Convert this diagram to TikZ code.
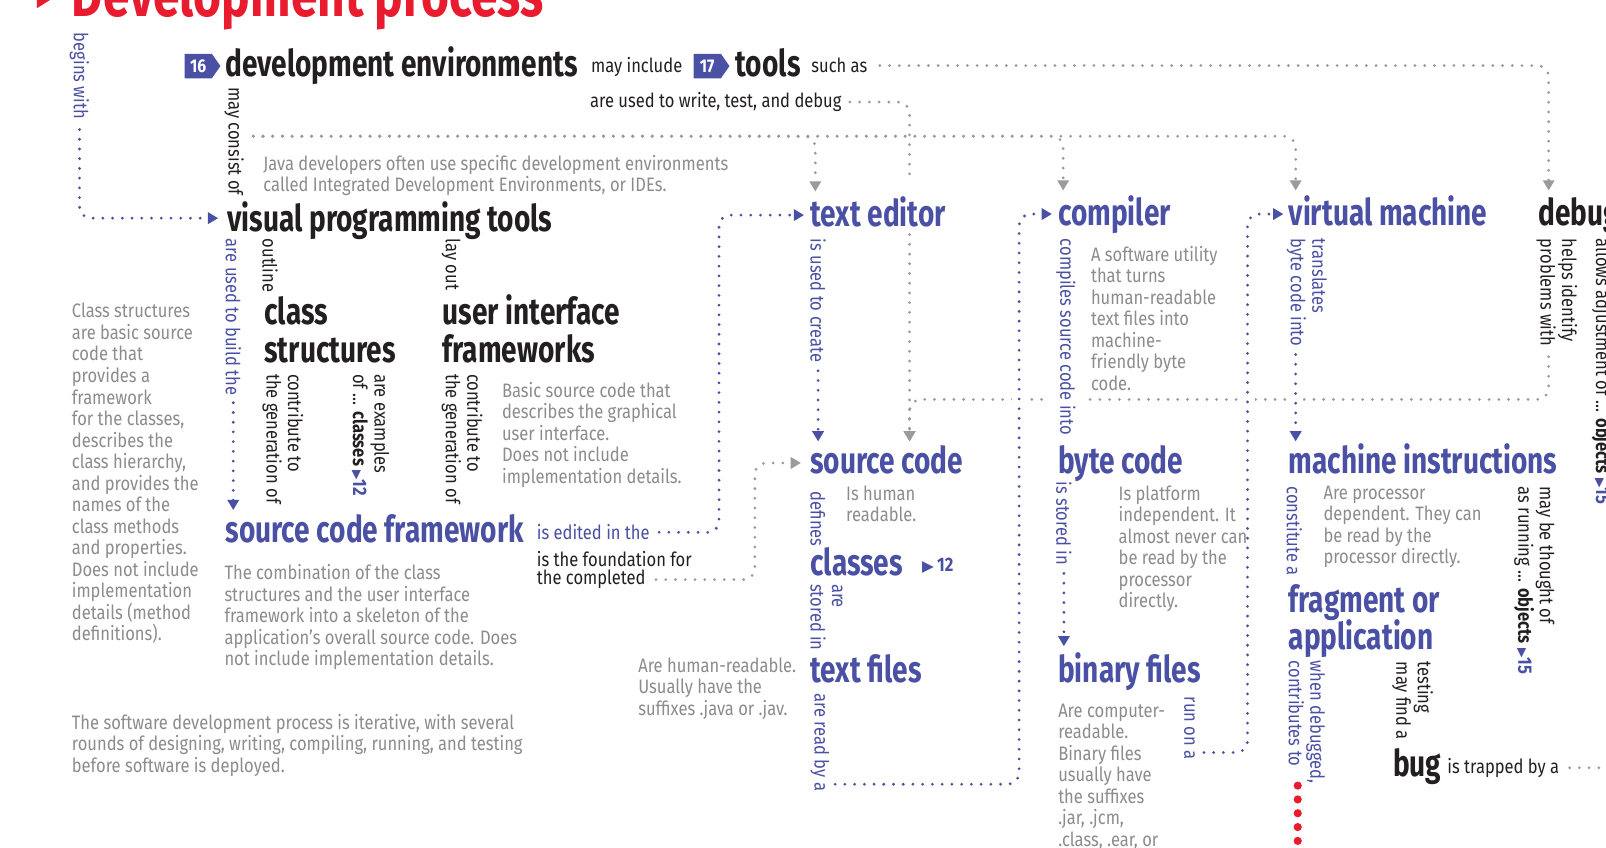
\documentclass[tikz,border=0pt]{standalone}
\usepackage{fontspec}
\setmainfont[FakeStretch=0.85]{Fira Sans}
\newfontfamily\headfam[FakeStretch=0.76]{Fira Sans}
\newfontfamily\titlefam[FakeStretch=0.78]{Fira Sans}
\newfontfamily\symfam{DejaVu Sans}
\usetikzlibrary{arrows.meta,backgrounds,shapes.symbols,calc}
\pgfdeclarelayer{bgzero}
\pgfsetlayers{bgzero,background,main}
\definecolor{iblue}{RGB}{74,80,163}
\definecolor{gtext}{RGB}{140,140,140}
\definecolor{gline}{RGB}{155,155,155}
\definecolor{ired}{RGB}{232,28,46}
\definecolor{ink}{RGB}{35,31,32}
\newcommand\myhead{\headfam\bfseries\fontsize{36}{39}\selectfont}
\newcommand\mytitle{\titlefam\bfseries\fontsize{60}{62}\selectfont}
\newcommand\mysmall{\fontsize{19}{21}\selectfont}
\newcommand\mybadge{\bfseries\fontsize{18}{18}\selectfont}
\newcommand\tri{{\symfam\fontsize{12}{12}\selectfont ▶}}
\newcommand\bigtri{{\symfam\fontsize{15}{15}\selectfont ▶}}
\tikzset{
 xlab/.style={inner sep=0pt, anchor=base west, font=\mysmall, text=ink},
 xblab/.style={xlab, text=iblue},
 xdesc/.style={inner sep=0pt, anchor=north west, align=left, font=\mysmall, text=gtext},
 xhead/.style={inner sep=0pt, anchor=base west, font=\myhead, text=ink},
 xbhead/.style={xhead, text=iblue},
 xvlab/.style={rotate=-90, inner sep=0pt, anchor=south west, align=left, font=\mysmall, text=ink},
 xbvlab/.style={xvlab, text=iblue},
 xbadge/.style={signal, signal to=east, signal pointer angle=110, fill=iblue, text=white, font=\mybadge, inner xsep=3pt, inner ysep=2pt, minimum height=24pt, minimum width=35pt, anchor=west},
 xdot/.style={line width=3pt, dash pattern=on 0pt off 9.5pt, line cap=round, rounded corners=11pt},
 xgdot/.style={xdot, draw=gline},
 xbdot/.style={xdot, draw=iblue, preaction={draw=white, line width=14pt, solid, line cap=butt, -}},
 xarr/.style={-{Triangle[length=10pt,width=11pt]}},
 xrdot/.style={draw=ired, line width=8pt, dash pattern=on 0pt off 13.5pt, line cap=round},
}
\begin{document}
\begin{tikzpicture}[x=1pt,y=-1pt]
\useasboundingbox (0,0) rectangle (1568,827);
\begin{pgfonlayer}{bgzero}\fill[white] (0,0) rectangle (1568,827);\end{pgfonlayer}

% title
\node[xlab, font=\mytitle, text=ired] (title) at (70,16) {Development process};
\fill[ired] (36,-12) -- (52,-2) -- (36,8) -- cycle;

% top row
\node[xbadge] (b16) at (180,64.5) {16};
\node[xhead] (denv) at (220,75) {development environments};
\node[xlab] (minc) at (577,71) {may include};
\node[xbadge] (b17) at (677,64.5) {17};
\node[xhead] (tools) at (718,75) {tools};
\node[xlab] (sa) at (792,71) {such as};
\node[xlab] (uwtd) at (576,105) {are used to write, test, and debug};
\node[xdesc] (java) at (257,151) {Java developers often use specific development environments\\called Integrated Development Environments, or IDEs.};
\node[xvlab] (mco) at (219,85) {may consist of};
\node[xbvlab] (bw) at (68,32) {begins with};

% left block
\node[xhead] (vpt) at (222,226) {visual programming tools};
\node[xbvlab] (ubt) at (220,233) {are used to build the};
\node[xvlab] (outl) at (256,233) {outline};
\node[xhead] (cls1) at (258,317) {class};
\node[xhead] (cls2) at (258,354) {structures};
\node[xvlab] (layo) at (431,233) {lay out};
\node[xhead] (uif1) at (432,317) {user interface};
\node[xhead] (uif2) at (432,354) {frameworks};
\node[xvlab] (cg1) at (256,365) {contribute to\\the generation of};
\node[xvlab] (aex) at (343,365) {are examples\\of ... \textbf{classes} {\color{iblue}\tri\textbf{12}}};
\node[xvlab] (cg2) at (431,365) {contribute to\\the generation of};
\node[xdesc] (bsc) at (490,373) {Basic source code that\\describes the graphical\\user interface.\\Does not include\\implementation details.};
\node[xdesc] (csd) at (70,296) {Class structures\\are basic source\\code that\\provides a\\framework\\for the classes,\\describes the\\class hierarchy,\\and provides the\\names of the\\class methods\\and properties.\\Does not include\\implementation\\details (method\\definitions).};
\node[xbhead] (scf) at (220,530) {source code framework};
\node[xblab] (eit) at (524,527) {is edited in the};
\node[xlab] (fnd1) at (524,553) {is the foundation for};
\node[xlab] (fnd2) at (524,571) {the completed};
\node[xdesc] (comb) at (219,551) {The combination of the class\\structures and the user interface\\framework into a skeleton of the\\application's overall source code. Does\\not include implementation details.};
\node[xdesc] (sdp) at (70,697) {The software development process is iterative, with several\\rounds of designing, writing, compiling, running, and testing\\before software is deployed.};

% text editor column
\node[xbhead] (te) at (791,221) {text editor};
\node[xbvlab] (iutc) at (791,233) {is used to create};
\node[xbhead] (sc) at (791,462) {source code};
\node[xbvlab] (defn) at (791,480) {defines};
\node[xdesc] (ihr) at (826,474) {Is human\\readable.};
\node[xbhead] (clss) at (791,562) {classes};
\node[xblab, font=\mysmall\bfseries] (c12) at (900,558) {\bigtri\,12};
\node[xbvlab] (asi) at (791,570) {are\\stored in};
\node[xbhead] (tf) at (791,666) {text files};
\node[xdesc] (ahr) at (623,642) {Are human-readable.\\Usually have the\\suffixes .java or .jav.};
\node[xbvlab] (arb) at (791,677) {are read by a};

% compiler column
\node[xbhead] (comp) at (1033,220) {compiler};
\node[xbvlab, fill=white, inner ysep=6pt] (csci) at (1025,233) {compiles source code into};
\node[xdesc] (swu) at (1065,240) {A software utility\\that turns\\human-readable\\text files into\\machine-\\friendly byte\\code.};
\node[xbhead] (bc) at (1033,462) {byte code};
\node[xbvlab] (isi) at (1031,470) {is stored in};
\node[xdesc] (ipi) at (1092,474) {Is platform\\independent. It\\almost never can\\be read by the\\processor\\directly.};
\node[xbhead] (bf) at (1033,666) {binary files};
\node[xdesc] (acr) at (1033,687) {Are computer-\\readable.\\Binary files\\usually have\\the suffixes\\.jar, .jcm,\\.class, .ear, or};
\node[xbvlab] (roa) at (1156,680) {run on a};

% virtual machine column
\node[xbhead] (vm) at (1258,220) {virtual machine};
\node[xbvlab] (tbi) at (1256,233) {translates\\byte code into};
\node[xbhead] (mi) at (1258,462) {machine instructions};
\node[xbvlab] (cona) at (1256,475) {constitute a};
\node[xdesc] (apd) at (1292,474) {Are processor\\dependent. They can\\be read by the\\processor directly.};
\node[xvlab] (mbt) at (1478,475) {may be thought of\\as running ... \textbf{objects} {\color{iblue}\tri\textbf{15}}};
\node[xbhead] (frag1) at (1258,598) {fragment or};
\node[xbhead] (frag2) at (1258,634) {application};
\node[xbvlab] (wdc) at (1258,645) {when debugged,\\contributes to};
\node[xvlab] (tmf) at (1359,646) {testing\\may find a};
\node[xhead] (bug) at (1360,758) {bug};
\node[xlab] (itb) at (1413,755) {is trapped by a};

% debugger column
\node[xhead] (dbg) at (1502,220) {debugger};
\node[xvlab] (hip) at (1500,233) {helps identify\\problems with};
\node[xvlab] (aao) at (1554,233) {allows adjustment of ... \textbf{objects} {\color{iblue}\tri\textbf{15}}};

\begin{pgfonlayer}{background}
% gray connectors
\draw[xgdot,xarr] ($(sa.east)+(12,0)$) -| ($(dbg.base west)+(10,-34)$);
\draw[xgdot] ($(uwtd.east)+(8,0)$) -| ($(sc.base west |- te.base west)+(97,-45)$);
\draw[xgdot,xarr] ($(sc.base west |- te.base west)+(97,8)$) -- ($(sc.base west)+(97,-31)$);
\draw[xgdot,xarr] ($(mco.north west)+(9,48)$) -| ($(te.base west)+(5,-34)$);
\draw[xgdot,xarr] ($(mco.north west)+(9,48)$) -| ($(comp.base west)+(5,-34)$);
\draw[xgdot,xarr] ($(mco.north west)+(9,48)$) -| ($(vm.base west)+(7,-34)$);
\draw[xgdot,xarr] ($(fnd2.east)+(10,0)$) -| ($(sc.base west)+(-54,-10)$) -- ($(sc.base west)+(-9,-10)$);
\draw[xgdot,xarr] ($(hip.south east)+(12,10)$) |- ($(sc.base west)+(97,-72)$) -- ($(sc.base west)+(97,-31)$);
\draw[xgdot] ($(itb.east)+(10,0)$) -- ++(100,0);
% blue connectors
\draw[xbdot,xarr] ($(bw.east)+(0,10)$) |- ($(vpt.base west)+(-9,-13)$);
\draw[xbdot,xarr] ($(ubt.east)+(0,7)$) -- ($(ubt.east |- scf.base west)+(0,-32)$);
\draw[xbdot,xarr] ($(eit.east)+(9,0)$) -| ($(te.base west)+(-89,-11)$) -- ($(te.base west)+(-6,-11)$);
\draw[xbdot,xarr] ($(iutc.east)+(0,8)$) -- ($(iutc.east |- sc.base west)+(0,-31)$);
\draw[xbdot,xarr] ($(arb.east)+(15,-7)$) -| ($(comp.base west)+(-38,-11)$) -- ($(comp.base west)+(-6,-11)$);
\draw[xbdot,xarr] ($(isi.east)+(0,8)$) -- ($(isi.east |- bf.base west)+(0,-35)$);
\draw[xbdot,xarr] ($(roa.east)+(14,-7)$) -| ($(vm.base west)+(-40,-11)$) -- ($(vm.base west)+(-5,-11)$);
\draw[xbdot,xarr] ($(tbi.east -| mi.base west)+(7,8)$) -- ($(mi.base west)+(7,-31)$);
\draw[xrdot] ($(wdc.south west)+(9,122)$) -- ++(0,120);
\end{pgfonlayer}
\end{tikzpicture}
\end{document}
